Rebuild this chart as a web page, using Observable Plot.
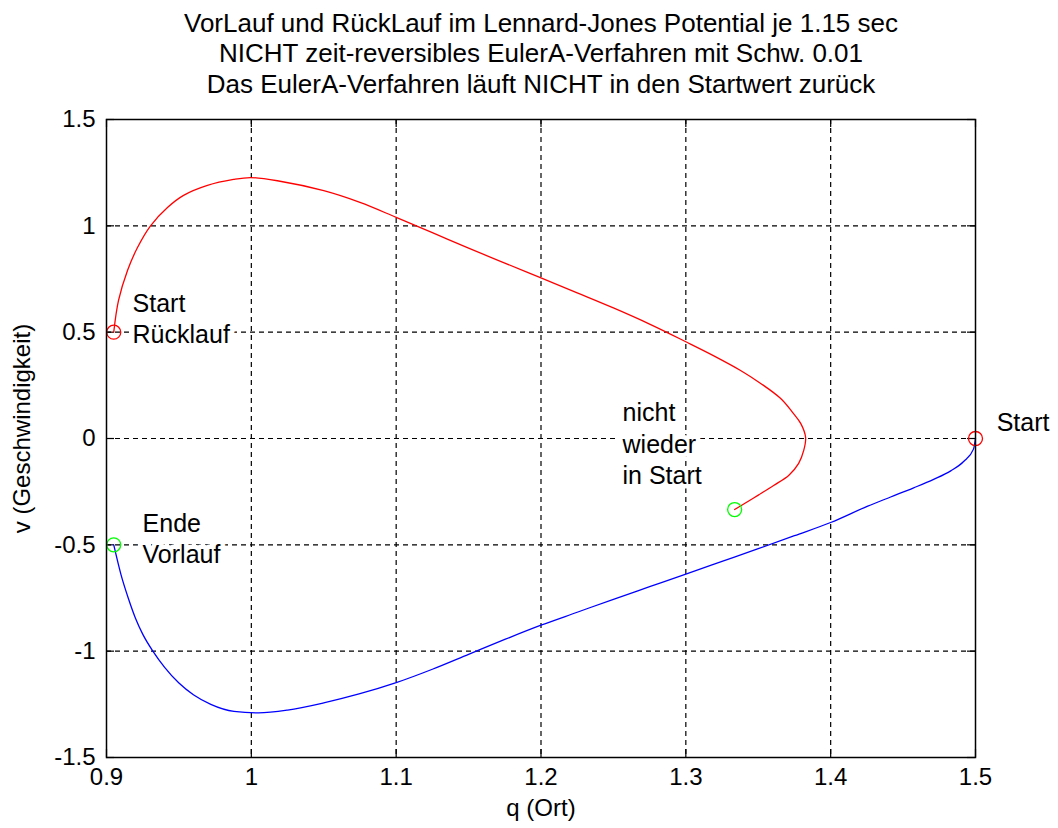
<!DOCTYPE html>
<html>
<head>
<meta charset="utf-8">
<script src="https://cdn.jsdelivr.net/npm/d3@7"></script>
<script src="https://cdn.jsdelivr.net/npm/@observablehq/plot@0.6"></script>
<style>
  html, body { margin: 0; padding: 0; background: white; }
</style>
</head>
<body>
<div id="chart"></div>
<script>
const titleLines = [
  "VorLauf und RückLauf im Lennard-Jones Potential je 1.15 sec",
  "NICHT zeit-reversibles EulerA-Verfahren mit Schw. 0.01",
  "Das EulerA-Verfahren läuft NICHT in den Startwert zurück"
];
const xLabel = "q (Ort)";
const yLabel = "v (Geschwindigkeit)";
const qTicks = [0.9, 1, 1.1, 1.2, 1.3, 1.4, 1.5];
const vTicks = [-1.5, -1, -0.5, 0, 0.5, 1, 1.5];

// Vorlauf (blue): from Start (1.5, 0) to end (0.905, -0.5)
const vorlaufQ = [1.5, 1.4986, 1.4918, 1.4829, 1.4711, 1.4573, 1.4414, 1.4256, 1.4, 1.375, 1.35, 1.325, 1.3, 1.275, 1.25, 1.225, 1.2, 1.175, 1.15, 1.125, 1.1, 1.075, 1.05, 1.025, 1.005, 0.988, 0.972, 0.96, 0.95, 0.94, 0.932, 0.925, 0.92, 0.915, 0.91, 0.905];
const vorlaufV = [0, -0.05, -0.108, -0.152, -0.192, -0.232, -0.275, -0.318, -0.395, -0.457, -0.518, -0.578, -0.638, -0.697, -0.756, -0.817, -0.878, -0.945, -1.015, -1.085, -1.148, -1.2, -1.243, -1.277, -1.29, -1.283, -1.25, -1.205, -1.15, -1.075, -1.0, -0.92, -0.845, -0.75, -0.64, -0.5];

// Rücklauf (red): from (0.905, 0.5) to (1.3337, -0.334)
const ruecklaufQ = [0.905, 0.9083, 0.9145, 0.9214, 0.9304, 0.9421, 0.9532, 0.9697, 0.9877, 0.9994, 1.018, 1.05, 1.075, 1.1, 1.125, 1.15, 1.175, 1.2, 1.225, 1.25, 1.275, 1.3, 1.319, 1.3378, 1.3517, 1.3655, 1.3738, 1.3793, 1.3827, 1.3814, 1.3779, 1.371, 1.3606, 1.3503, 1.34, 1.3337];
const ruecklaufV = [0.5, 0.649, 0.79, 0.898, 1.0, 1.086, 1.143, 1.19, 1.218, 1.227, 1.212, 1.165, 1.11, 1.04, 0.968, 0.895, 0.825, 0.755, 0.685, 0.614, 0.538, 0.455, 0.39, 0.32, 0.259, 0.188, 0.122, 0.071, 0.005, -0.056, -0.117, -0.174, -0.221, -0.265, -0.308, -0.334];

// circle markers
const markerQ = [0.905, 1.5, 0.905, 1.3337];
const markerV = [0.5, 0, -0.5, -0.334];
const markerColor = ["red", "red", "lime", "lime"];

// text annotations (data coordinates, left-aligned)
const annotText = ["Start", "Start\nRücklauf", "Ende\nVorlauf", "nicht\nwieder\nin Start"];
const annotQ = [1.5146, 0.918, 0.9249, 1.2563];
const annotV = [0.08, 0.569, -0.465, -0.019];

const vorlauf = vorlaufQ.map((q, i) => ({q, v: vorlaufV[i]}));
const ruecklauf = ruecklaufQ.map((q, i) => ({q, v: ruecklaufV[i]}));
const markers = markerQ.map((q, i) => ({q, v: markerV[i], c: markerColor[i]}));
const annots = annotText.map((t, i) => ({t, q: annotQ[i], v: annotV[i]}));

const W = 1058, H = 828;
const mL = 106, mR = 83, mT = 119, mB = 71;
const plotW = W - mL - mR, plotH = H - mT - mB;
const tick = 8;
const font = "'Liberation Sans', Arial, Helvetica, sans-serif";
const fs = 24;

const chart = Plot.plot({
  width: W, height: H,
  marginLeft: mL, marginRight: mR, marginTop: mT, marginBottom: mB,
  style: {fontFamily: font, fontSize: fs + "px", background: "white", color: "black"},
  x: {domain: [0.9, 1.5], label: null, axis: null},
  y: {domain: [-1.5, 1.5], label: null, axis: null},
  marks: [
    Plot.gridX(qTicks.slice(1, -1), {stroke: "black", strokeOpacity: 1, strokeWidth: 1.2, strokeDasharray: "5,4"}),
    Plot.gridY(vTicks.slice(1, -1), {stroke: "black", strokeOpacity: 1, strokeWidth: 1.2, strokeDasharray: "5,4"}),
    // inward ticks on all four sides
    Plot.tickX(qTicks, {x: d => d, insetTop: plotH - tick, stroke: "black", strokeWidth: 1.2}),
    Plot.tickX(qTicks, {x: d => d, insetBottom: plotH - tick, stroke: "black", strokeWidth: 1.2}),
    Plot.tickY(vTicks, {y: d => d, insetRight: plotW - tick, stroke: "black", strokeWidth: 1.2}),
    Plot.tickY(vTicks, {y: d => d, insetLeft: plotW - tick, stroke: "black", strokeWidth: 1.2}),
    Plot.line(vorlauf, {x: "q", y: "v", stroke: "blue", strokeWidth: 1.3, curve: "monotone-x"}),
    Plot.line(ruecklauf, {x: "q", y: "v", stroke: "red", strokeWidth: 1.3, curve: "catmull-rom"}),
    Plot.text(annots, {x: "q", y: "v", text: "t", textAnchor: "start", lineAnchor: "middle", lineHeight: 1.25,
      fill: "black", stroke: "white", strokeWidth: 9, fontSize: 25, fontFamily: font}),
    Plot.dot(markers, {x: "q", y: "v", r: 7, stroke: "c", fill: "none", strokeWidth: 1.3}),
    Plot.frame({stroke: "black", strokeWidth: 1.5}),
    Plot.axisX(qTicks, {anchor: "bottom", tickSize: 0, tickPadding: 10, tickFormat: d => String(d), fontSize: fs, fill: "black", label: null}),
    Plot.axisY(vTicks, {anchor: "left", tickSize: 0, tickPadding: 11, tickFormat: d => String(d), fontSize: fs, fill: "black", label: null}),
    Plot.text([xLabel], {text: d => d, frameAnchor: "bottom", dy: 51, textAnchor: "middle", lineAnchor: "middle", fontSize: fs, fill: "black"}),
    Plot.text([yLabel], {text: d => d, frameAnchor: "left", dx: -84, dy: -10, rotate: -90, textAnchor: "middle", lineAnchor: "middle", fontSize: fs, fill: "black"}),
    Plot.text([titleLines.join("\n")], {text: d => d, frameAnchor: "top", dy: -67, textAnchor: "middle", lineAnchor: "middle", lineHeight: 1.17, fontSize: 26, fill: "black"})
  ]
});
document.getElementById("chart").appendChild(chart);
</script>
</body>
</html>
